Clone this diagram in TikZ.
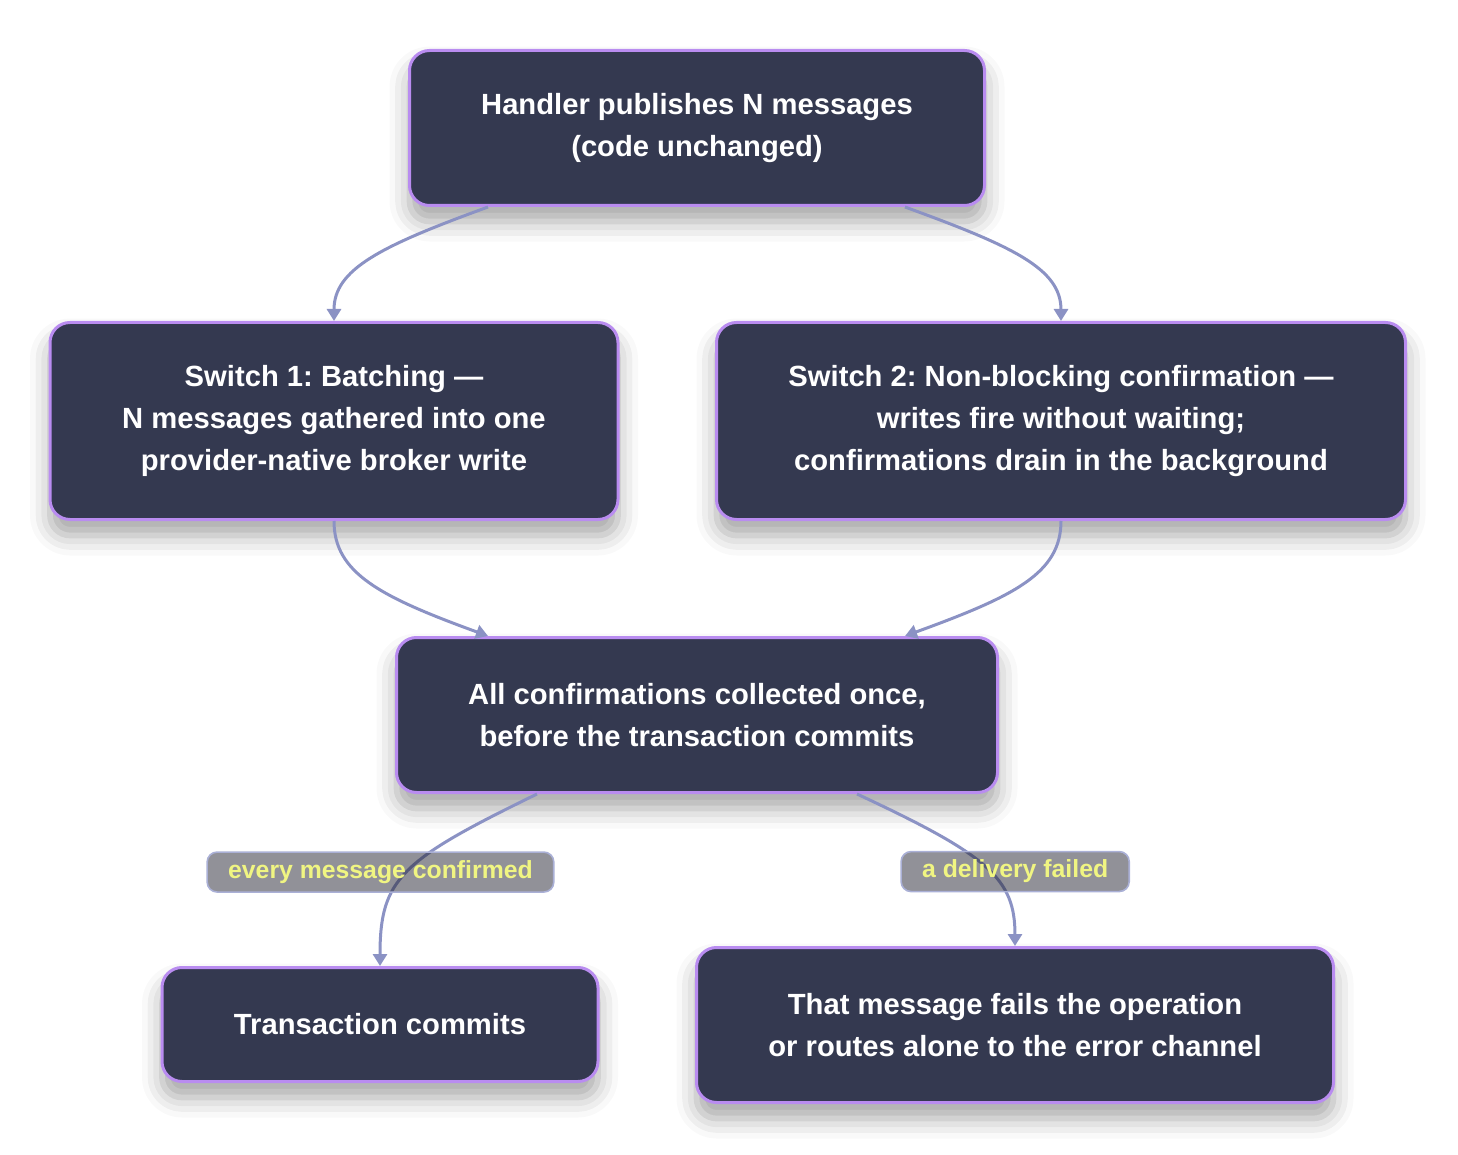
\documentclass[tikz,border=0pt]{standalone}
\usepackage{fontspec}
\setmainfont{Liberation Sans}
\usetikzlibrary{arrows.meta,positioning,shadows.blur}

\definecolor{boxfill}{RGB}{52,57,80}
\definecolor{boxline}{RGB}{185,140,240}
\definecolor{flowline}{RGB}{139,146,196}
\definecolor{lblfill}{RGB}{35,35,50}
\definecolor{lblline}{RGB}{170,176,214}
\definecolor{lbltext}{RGB}{240,245,130}

\begin{document}
\begin{tikzpicture}[x=0.5pt, y=-0.5pt, semithick,
    stepbox/.style={draw=boxline, line width=1.5pt, fill=boxfill, rounded corners=10pt, text=white, align=center,
        font=\fontsize{14.6}{21}\selectfont\bfseries\frenchspacing,
        blur shadow={shadow xshift=0pt, shadow yshift=-8pt, shadow blur radius=10pt, shadow opacity=35}},
    flow/.style={draw=flowline, line width=1.5pt, -{Triangle[length=6pt,width=7pt]}},
    cond/.style={fill=lblfill, fill opacity=0.5, text opacity=1, draw=lblline, draw opacity=1, line width=0.8pt,
        rounded corners=5pt, text=lbltext, font=\fontsize{12.4}{14}\selectfont\bfseries,
        minimum height=20pt, inner xsep=10.5pt, inner ysep=0pt}]

    \useasboundingbox (0,0) rectangle (1458,1155);

    \node[stepbox, minimum width=287.5pt, minimum height=77.5pt] (top)  at (697,128)                        {Handler publishes N messages\\(code unchanged)};
    \node[stepbox, minimum width=284pt,   minimum height=98.5pt] (sw1)  [below=57pt of top, xshift=-181.5pt]   {Switch 1: Batching —\\N messages gathered into one\\provider-native broker write};
    \node[stepbox, minimum width=344.5pt, minimum height=98.5pt] (sw2)  [below=57pt of top, xshift=182pt]      {Switch 2: Non-blocking confirmation —\\writes fire without waiting;\\confirmations drain in the background};
    \node[stepbox, minimum width=300.5pt, minimum height=77.5pt] (all)  [below=214.5pt of top]                 {All confirmations collected once,\\before the transaction commits};
    \node[stepbox, minimum width=218pt,   minimum height=57pt]   (ok)   [below=86pt of all, xshift=-158.5pt]   {Transaction commits};
    \node[stepbox, minimum width=318.5pt, minimum height=77.5pt] (fail) [below=76pt of all, xshift=159pt]      {That message fails the operation\\or routes alone to the error channel};

    \draw[flow] ([xshift=-104.5pt]top.south) to [out=200, in=90, out looseness=1.53, in looseness=0.69] (sw1.north);
    \draw[flow] ([xshift=104pt]top.south)    to [out=340, in=90, out looseness=1.53, in looseness=0.69] (sw2.north);
    \draw[flow] (sw1.south) to [out=270, in=160, out looseness=0.69, in looseness=1.53] ([xshift=-104.5pt]all.north);
    \draw[flow] (sw2.south) to [out=270, in=20,  out looseness=0.69, in looseness=1.53] ([xshift=104pt]all.north);

    \draw[flow] ([xshift=-80pt]all.south) to [out=206, in=90, out looseness=1.66, in looseness=0.96]
                    node[cond, pos=0.5, xshift=-13.5pt] {every message confirmed} (ok.north);
    \draw[flow] ([xshift=80pt]all.south)  to [out=335, in=90, out looseness=1.69, in looseness=0.79]
                    node[cond, pos=0.5, xshift=15pt, yshift=-2pt] {a delivery failed} (fail.north);

\end{tikzpicture}
\end{document}
